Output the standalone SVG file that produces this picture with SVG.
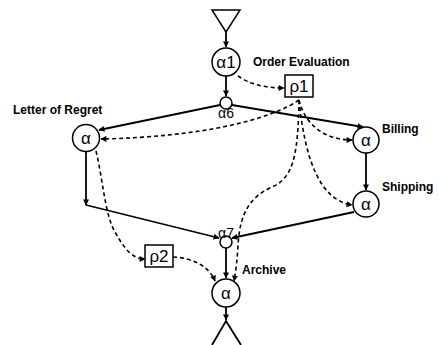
<svg xmlns="http://www.w3.org/2000/svg" width="439" height="345" viewBox="0 0 439 345">
<style>
.bg{fill:#fff}
.n{fill:#fff;stroke:#000;stroke-width:1.5}
.s{fill:none;stroke:#000;stroke-width:1.8}
.d{fill:none;stroke:#000;stroke-width:1.6;stroke-dasharray:4 3}
.lb{font-family:"Liberation Sans",Arial,sans-serif;font-size:12px;font-weight:bold;fill:#000}
.sym{font-family:"Liberation Sans",Arial,sans-serif;font-size:17px;fill:#000;text-anchor:middle}
.sm{font-family:"Liberation Sans",Arial,sans-serif;font-size:14px;fill:#000;text-anchor:middle}
</style>
<defs>
<marker id="ah" viewBox="0 0 10 10" refX="9" refY="5" markerWidth="7" markerHeight="6" markerUnits="userSpaceOnUse" orient="auto">
<path d="M0,0 L10,5 L0,10 z" fill="#000"/>
</marker>
</defs>
<rect class="bg" width="439" height="345"/>
<g id="connectors">
<path class="s" d="M226,32 L226,47" marker-end="url(#ah)"/>
<path class="s" d="M226,76 L226,96" marker-end="url(#ah)"/>
<path class="d" d="M238,76 Q255,88 284,88" marker-end="url(#ah)"/>
<path class="s" d="M220,105 L99,130" marker-end="url(#ah)"/>
<path class="s" d="M232,105 L363,127" marker-end="url(#ah)"/>
<path class="s" d="M366,153 L366,190" marker-end="url(#ah)"/>
<path class="s" d="M354,212 L232,238" marker-end="url(#ah)"/>
<path class="s" d="M86,152 L86,205" marker-end="url(#ah)"/>
<path class="s" d="M86,205 L219,238" marker-end="url(#ah)"/>
<path class="s" d="M226,248 L226,278" marker-end="url(#ah)"/>
<path class="s" d="M226,307 L226,320" marker-end="url(#ah)"/>
<path class="d" d="M299,100 C270,120 200,137 101,139" marker-end="url(#ah)"/>
<path class="d" d="M299,100 C305,125 325,140 352,140" marker-end="url(#ah)"/>
<path class="d" d="M299,100 C305,160 320,200 352,205" marker-end="url(#ah)"/>
<path class="d" d="M299,100 C298,160 292,178 272,187 C248,198 240,215 238,245 Q237,265 234,281" marker-end="url(#ah)"/>
<path class="d" d="M96,151 C103,180 105,215 115,232 C125,250 133,259 145,259" marker-end="url(#ah)"/>
<path class="d" d="M173,257 C195,258 210,268 215,281" marker-end="url(#ah)"/>
</g>
<g id="start"><polygon class="n" points="212,10 240,10 226,32"/></g>
<g id="a1"><circle class="n" cx="226" cy="62" r="14"/><text class="sym" x="226" y="68">α1</text></g>
<g id="a6"><circle class="n" cx="226" cy="103" r="6"/><text class="sm" x="226" y="118">α6</text></g>
<g id="r1"><rect class="n" x="285" y="75" width="28" height="22"/><text class="sym" x="299" y="92">ρ1</text></g>
<g id="lor"><circle class="n" cx="86" cy="138" r="13.5"/><text class="sym" x="86" y="144">α</text></g>
<g id="billing"><circle class="n" cx="366" cy="140" r="13"/><text class="sym" x="366" y="146">α</text></g>
<g id="shipping"><circle class="n" cx="366" cy="204" r="13"/><text class="sym" x="366" y="210">α</text></g>
<g id="a7"><circle class="n" cx="226" cy="242" r="6"/><text class="sm" x="226" y="238">α7</text></g>
<g id="r2"><rect class="n" x="145" y="245" width="28" height="22"/><text class="sym" x="159" y="262">ρ2</text></g>
<g id="archive"><circle class="n" cx="226" cy="293" r="14"/><text class="sym" x="226" y="299">α</text></g>
<g id="end"><polyline class="s" points="212,345 226,321 241,345"/></g>
<g id="labels">
<text class="lb" x="253" y="66">Order Evaluation</text>
<text class="lb" x="13" y="114">Letter of Regret</text>
<text class="lb" x="382" y="133">Billing</text>
<text class="lb" x="382" y="191">Shipping</text>
<text class="lb" x="242" y="274">Archive</text>
</g>
</svg>
